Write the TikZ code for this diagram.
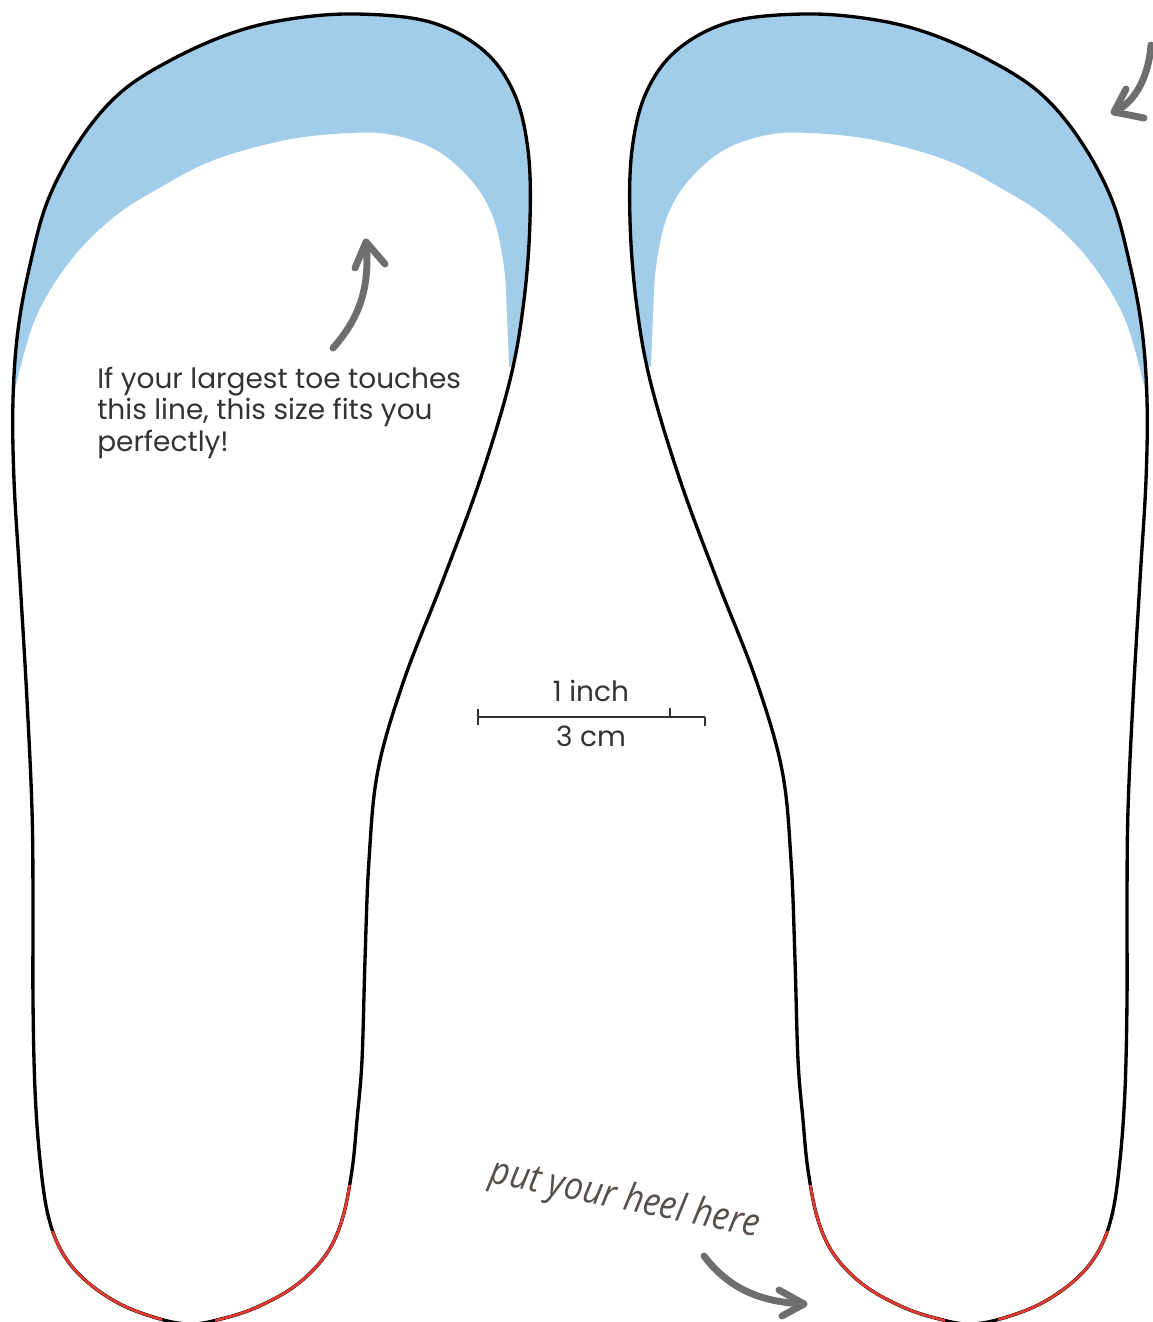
\documentclass[tikz,border=0pt]{standalone}
\usepackage{fontspec}
\setmainfont{Poppins}
\newfontfamily\handfont{Open Sans}[FakeStretch=0.88]
\usetikzlibrary{positioning}
\definecolor{soleblue}{HTML}{A2CDEA}
\definecolor{solered}{HTML}{E5392F}
\definecolor{solegray}{HTML}{6D6E70}
\definecolor{soletext}{HTML}{333333}
\definecolor{solehand}{HTML}{564F4C}
\tikzset{
  outline/.style={draw=black,line width=2.5pt,line join=round},
  heelred/.style={draw=solered,line width=2pt},
  toezone/.style={fill=soleblue},
  brush/.style={draw=solegray,line width=5.2pt,line cap=round,line join=round},
  note/.style={text=soletext,font=\fontsize{21}{23.4}\selectfont,align=left,inner sep=0pt},
  handnote/.style={text=solehand,font=\handfont\itshape\fontsize{29}{30}\selectfont,inner sep=0pt},
  scaleline/.style={draw=soletext,line width=1pt},
}
% one insole (left foot), pixel coordinates
\newcommand{\insole}{%
  \fill[toezone] plot[smooth,tension=0.6] coordinates {(14,392) (18,330) (30,265) (48,200) (80,140) (120,93) (171,60) (232,33) (290,19) (357,14) (430,22) (483,50) (514,93) (528,150) (530,220) (524,300) (512,366)}
    -- plot[smooth,tension=0.6] coordinates {(509,367) (507,317) (504,267) (493,217) (471,180) (436,150) (393,135) (350,133) (286,140) (214,160) (161,187) (114,217) (71,260) (36,317) (16,385)} -- cycle;
  \draw[outline,save path=\soleline] plot[smooth cycle,tension=0.6] coordinates {(357,14) (430,22) (483,50) (514,93) (528,150) (530,220) (524,300) (510,380) (480,480) (443,580) (404,680) (378,770) (369,860) (365,960) (362,1060) (357,1120) (352,1170) (342,1220) (325,1256) (295,1286) (255,1308) (217,1320) (190,1324) (160,1319) (120,1304) (85,1280) (62,1252) (48,1215) (40,1160) (35,1090) (33,1000) (33,900) (32,810) (27,700) (20,580) (14,480) (13,400) (18,330) (30,265) (48,200) (80,140) (120,93) (171,60) (232,33) (290,19)};
  % red heel marks
  \begin{scope}
    \clip (0,1231) rectangle (162,1330);
    \draw[heelred,use path=\soleline];
  \end{scope}
  \begin{scope}
    \clip (215,1185) rectangle (420,1330);
    \draw[heelred,use path=\soleline];
  \end{scope}
}
\begin{document}
\begin{tikzpicture}[x=0.75pt,y=-0.75pt]
  \useasboundingbox (0,0) rectangle (1153,1322);
  \clip (0,0) rectangle (1153,1322);
  % left and right insole
  \insole
  \begin{scope}[shift={(1160,0)},xscale=-1]
    \insole
  \end{scope}
  % toe note
  \node[note,anchor=north west] (fitnote) at (97,367) {If your largest toe touches\\this line, this size fits you\\perfectly!};
  \coordinate (toetail) at (333,348);
  \coordinate (toetip) at (366,242);
  \draw[brush] (toetail) .. controls (356,322) and (371,292) .. (toetip);
  \draw[brush] (355,268) -- (toetip) -- (385,264);
  % scale bar
  \coordinate (barL) at (478,717);
  \coordinate (barR) at (705,717);
  \draw[scaleline] (barL) -- (barR);
  \draw[scaleline] (478,709) -- (478,725);
  \draw[scaleline] (670,708) -- (670,717);
  \draw[scaleline] (705,717) -- (705,726);
  \node[note] (inchlabel) at (591,691) {1 inch};
  \node[note] (cmlabel) at (591,736) {3 cm};
  % heel note
  \node[handnote,rotate=-11.5] (heelnote) at (625,1200) {put your heel here};
  \coordinate (heeltail) at (704,1256);
  \coordinate (heeltip) at (804,1304);
  \draw[brush] (heeltail) .. controls (730,1290) and (762,1302) .. (heeltip);
  \draw[brush] (779,1290) -- (heeltip) -- (782,1316);
  % arrow at top right
  \coordinate (cornertip) at (1114,112);
  \draw[brush] (1151,45) .. controls (1148,82) and (1132,104) .. (cornertip);
  \draw[brush] (1126,89) -- (cornertip) -- (1144,118);
\end{tikzpicture}
\end{document}
